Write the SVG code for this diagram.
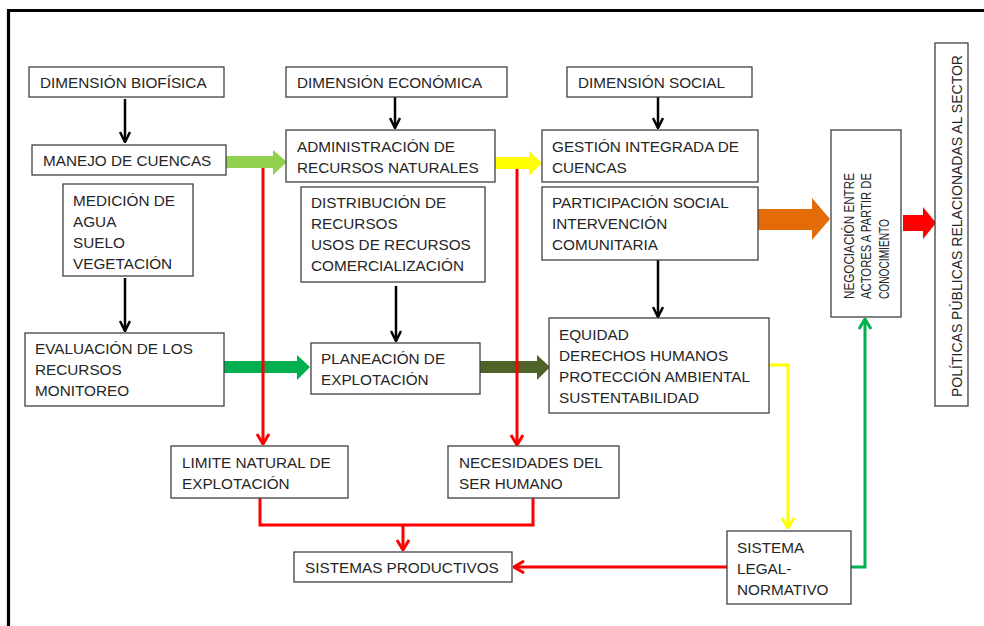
<svg xmlns="http://www.w3.org/2000/svg" width="984" height="626" viewBox="0 0 984 626">
<style>
.box{fill:#fff;stroke:#404040;stroke-width:1.3}
.t{font-family:"Liberation Sans",Arial,sans-serif;font-size:15.3px;fill:#262626}
.ln{fill:none;stroke-linejoin:miter}
</style>
<defs>
<marker id="mk" viewBox="0 0 12 12" refX="11" refY="6" markerWidth="12" markerHeight="12" markerUnits="userSpaceOnUse" orient="auto"><path d="M1,1 L11,6 L1,11" fill="none" stroke="#000" stroke-width="2.5"/></marker>
<marker id="mr" viewBox="0 0 12 14" refX="11" refY="7" markerWidth="12" markerHeight="14" markerUnits="userSpaceOnUse" orient="auto"><path d="M1,1 L11,7 L1,13" fill="none" stroke="#FF0000" stroke-width="3"/></marker>
<marker id="my" viewBox="0 0 12 14" refX="11" refY="7" markerWidth="12" markerHeight="14" markerUnits="userSpaceOnUse" orient="auto"><path d="M1,1 L11,7 L1,13" fill="none" stroke="#FFFF00" stroke-width="3"/></marker>
<marker id="mg" viewBox="0 0 12 14" refX="11" refY="7" markerWidth="12" markerHeight="14" markerUnits="userSpaceOnUse" orient="auto"><path d="M1,1 L11,7 L1,13" fill="none" stroke="#00B050" stroke-width="3"/></marker>
</defs>
<rect width="984" height="626" fill="#fff"/>
<path d="M8.5,626 V10.5 H984" fill="none" stroke="#000" stroke-width="3.2"/>

<g id="connectors">
<g stroke="#000" stroke-width="2.5" class="ln">
<line x1="125" y1="99" x2="125" y2="142" marker-end="url(#mk)"/>
<line x1="395" y1="97" x2="395" y2="128" marker-end="url(#mk)"/>
<line x1="658" y1="97" x2="658" y2="128" marker-end="url(#mk)"/>
<line x1="125" y1="278" x2="125" y2="331" marker-end="url(#mk)"/>
<line x1="396" y1="286" x2="396" y2="341" marker-end="url(#mk)"/>
<line x1="658" y1="260" x2="658" y2="317" marker-end="url(#mk)"/>
</g>
<polygon points="226,156 273,156 273,150 287,162 273,175 273,168 226,168" fill="#92D050"/>
<polygon points="495,157 529,157 529,151 542,163 529,176 529,169 495,169" fill="#FFFF00"/>
<polygon points="224,361 297,361 297,355 310,367 297,380 297,373 224,373" fill="#00B050"/>
<polygon points="480,361 537,361 537,355 550,367 537,380 537,373 480,373" fill="#4F6228"/>
<polygon points="758,209 812,209 812,198 830,219 812,240 812,230 758,230" fill="#E36C09"/>
<polygon points="903,215 923,215 923,207 936,223 923,239 923,231 903,231" fill="#FF0000"/>
<g stroke="#FF0000" stroke-width="3" class="ln">
<line x1="263" y1="168" x2="263" y2="444" marker-end="url(#mr)"/>
<line x1="517" y1="169" x2="517" y2="445" marker-end="url(#mr)"/>
<polyline points="260,498 260,525 533,525 533,498"/>
<line x1="403" y1="525" x2="403" y2="550" marker-end="url(#mr)"/>
<line x1="727" y1="567" x2="514" y2="567" marker-end="url(#mr)"/>
</g>
<polyline points="769,365 788,365 788,528" stroke="#FFFF00" stroke-width="3" class="ln" marker-end="url(#my)"/>
<polyline points="851,567 865,567 865,319" stroke="#00B050" stroke-width="3" class="ln" marker-end="url(#mg)"/>
</g>

<g id="n-biofisica"><rect class="box" x="29" y="67" width="195" height="30"/><text class="t" x="40" y="88">DIMENSIÓN BIOFÍSICA</text></g>
<g id="n-economica"><rect class="box" x="286" y="67" width="221" height="30"/><text class="t" x="297" y="88">DIMENSIÓN ECONÓMICA</text></g>
<g id="n-social"><rect class="box" x="567" y="67" width="185" height="30"/><text class="t" x="578" y="88">DIMENSIÓN SOCIAL</text></g>
<g id="n-manejo"><rect class="box" x="32" y="145" width="194" height="30"/><text class="t" x="43" y="166">MANEJO DE CUENCAS</text></g>
<g id="n-administracion"><rect class="box" x="286" y="130" width="209" height="52"/><text class="t" x="297" y="152">ADMINISTRACIÓN DE</text><text class="t" x="297" y="173">RECURSOS NATURALES</text></g>
<g id="n-gestion"><rect class="box" x="542" y="130" width="216" height="52"/><text class="t" x="552" y="152">GESTIÓN INTEGRADA DE</text><text class="t" x="552" y="173">CUENCAS</text></g>
<g id="n-medicion"><rect class="box" x="63" y="184" width="130" height="92"/><text class="t" x="73" y="206">MEDICIÓN DE</text><text class="t" x="73" y="227">AGUA</text><text class="t" x="73" y="248">SUELO</text><text class="t" x="73" y="269">VEGETACIÓN</text></g>
<g id="n-distribucion"><rect class="box" x="301" y="187" width="184" height="95"/><text class="t" x="311" y="208">DISTRIBUCIÓN DE</text><text class="t" x="311" y="229">RECURSOS</text><text class="t" x="311" y="250">USOS  DE RECURSOS</text><text class="t" x="311" y="271">COMERCIALIZACIÓN</text></g>
<g id="n-participacion"><rect class="box" x="542" y="187" width="216" height="73"/><text class="t" x="552" y="208">PARTICIPACIÓN SOCIAL</text><text class="t" x="552" y="229">INTERVENCIÓN</text><text class="t" x="552" y="250">COMUNITARIA</text></g>
<g id="n-evaluacion"><rect class="box" x="25" y="333" width="199" height="73"/><text class="t" x="35" y="354">EVALUACIÓN DE LOS</text><text class="t" x="35" y="375">RECURSOS</text><text class="t" x="35" y="396">MONITOREO</text></g>
<g id="n-planeacion"><rect class="box" x="311" y="343" width="169" height="51"/><text class="t" x="321" y="364">PLANEACIÓN DE</text><text class="t" x="321" y="385">EXPLOTACIÓN</text></g>
<g id="n-equidad"><rect class="box" x="549" y="318" width="220" height="95"/><text class="t" x="559" y="340">EQUIDAD</text><text class="t" x="559" y="361">DERECHOS HUMANOS</text><text class="t" x="559" y="382">PROTECCIÓN AMBIENTAL</text><text class="t" x="559" y="403">SUSTENTABILIDAD</text></g>
<g id="n-limite"><rect class="box" x="171" y="446" width="177" height="52"/><text class="t" x="182" y="468">LIMITE NATURAL DE</text><text class="t" x="182" y="489">EXPLOTACIÓN</text></g>
<g id="n-necesidades"><rect class="box" x="448" y="446" width="171" height="52"/><text class="t" x="459" y="468">NECESIDADES DEL</text><text class="t" x="459" y="489">SER HUMANO</text></g>
<g id="n-sistemas"><rect class="box" x="294" y="552" width="218" height="30"/><text class="t" x="305" y="573">SISTEMAS PRODUCTIVOS</text></g>
<g id="n-legal"><rect class="box" x="727" y="531" width="124" height="73"/><text class="t" x="737" y="553">SISTEMA</text><text class="t" x="737" y="574">LEGAL-</text><text class="t" x="737" y="595">NORMATIVO</text></g>
<g id="n-negociacion"><rect class="box" x="831" y="130" width="70" height="187"/>
<text class="t" style="font-size:14px" transform="translate(854,299) rotate(-90)" textLength="126" lengthAdjust="spacingAndGlyphs">NEGOCIACIÓN ENTRE</text>
<text class="t" style="font-size:14px" transform="translate(871,299) rotate(-90)" textLength="126" lengthAdjust="spacingAndGlyphs">ACTORES A PARTIR DE</text>
<text class="t" style="font-size:14px" transform="translate(889,299) rotate(-90)" textLength="80" lengthAdjust="spacingAndGlyphs">CONOCIMIENTO</text>
</g>
<g id="n-politicas"><rect class="box" x="935" y="43" width="33" height="363"/>
<text class="t" style="font-size:15.5px" transform="translate(962,397) rotate(-90)" textLength="342" lengthAdjust="spacingAndGlyphs">POLÍTICAS PÚBLICAS RELACIONADAS  AL SECTOR</text>
</g>
</svg>
